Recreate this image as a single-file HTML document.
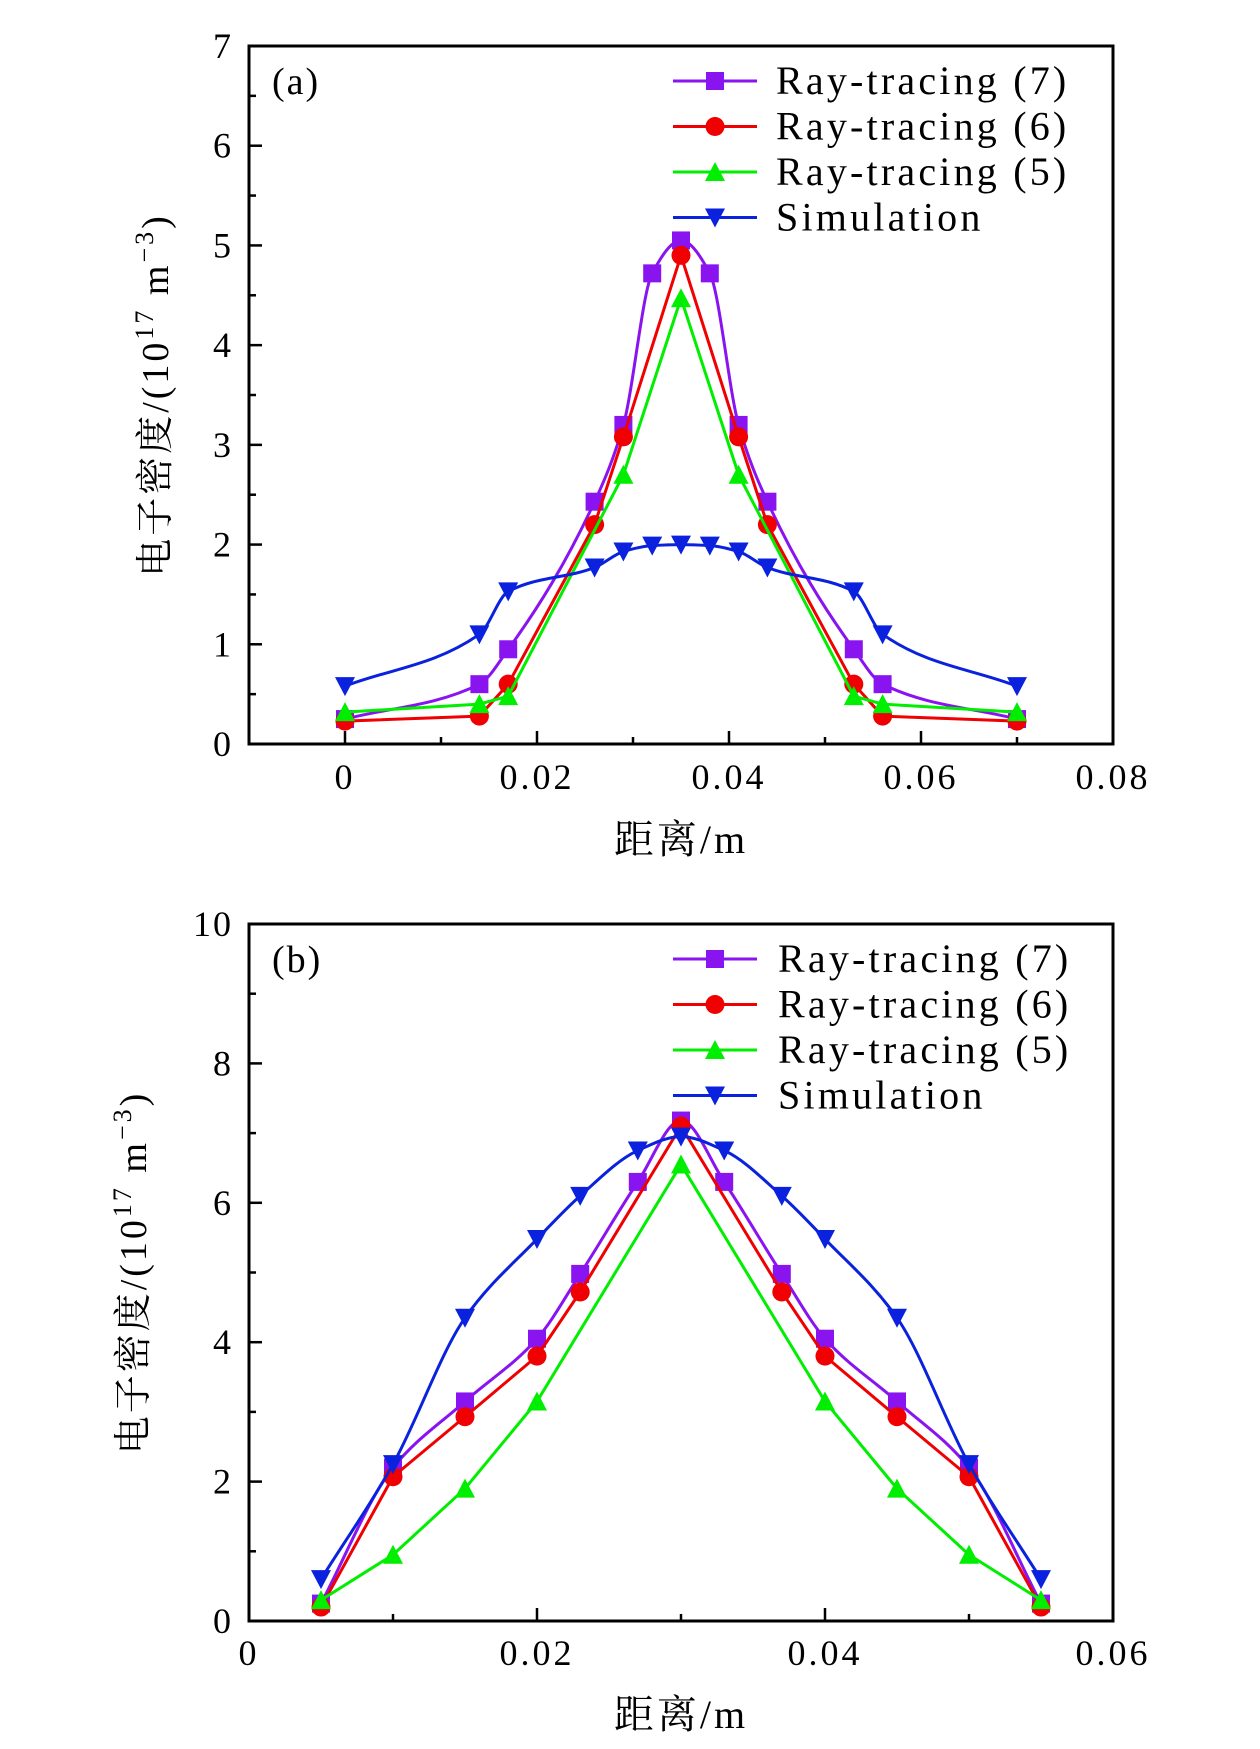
<!DOCTYPE html>
<html><head><meta charset="utf-8"><style>
html,body{margin:0;padding:0;background:#fff;}
svg{display:block;}
text{font-family:"Liberation Serif","Noto Serif CJK SC",serif;fill:#000;}
</style></head><body>
<svg id="chart" width="1260" height="1749" viewBox="0 0 1260 1749"></svg>
<script>
// Panel (a) data
const aX7=[0,0.014,0.017,0.026,0.029,0.032,0.035,0.038,0.041,0.044,0.053,0.056,0.07];
const aY7=[0.25,0.6,0.95,2.43,3.2,4.72,5.05,4.72,3.2,2.43,0.95,0.6,0.25];
const aX6=[0,0.014,0.017,0.026,0.029,0.035,0.041,0.044,0.053,0.056,0.07];
const aY6=[0.23,0.28,0.6,2.2,3.08,4.9,3.08,2.2,0.6,0.28,0.23];
const aX5=[0,0.014,0.017,0.029,0.035,0.041,0.053,0.056,0.07];
const aY5=[0.32,0.4,0.48,2.7,4.47,2.7,0.48,0.4,0.32];
const aXs=[0,0.014,0.017,0.026,0.029,0.032,0.035,0.038,0.041,0.044,0.053,0.056,0.07];
const aYs=[0.58,1.1,1.53,1.77,1.93,1.99,2.0,1.99,1.93,1.77,1.53,1.1,0.58];
const aXTicks=["0","0.02","0.04","0.06","0.08"];
const aYTicks=["0","1","2","3","4","5","6","7"];
// Panel (b) data
const bX7=[0.005,0.01,0.015,0.02,0.023,0.027,0.03,0.033,0.037,0.04,0.045,0.05,0.055];
const bY7=[0.25,2.2,3.15,4.05,4.98,6.3,7.18,6.3,4.98,4.05,3.15,2.2,0.25];
const bX6=[0.005,0.01,0.015,0.02,0.023,0.03,0.037,0.04,0.045,0.05,0.055];
const bY6=[0.2,2.07,2.93,3.8,4.72,7.1,4.72,3.8,2.93,2.07,0.2];
const bX5=[0.005,0.01,0.015,0.02,0.03,0.04,0.045,0.05,0.055];
const bY5=[0.3,0.95,1.9,3.15,6.55,3.15,1.9,0.95,0.3];
const bXs=[0.005,0.01,0.015,0.02,0.023,0.027,0.03,0.033,0.037,0.04,0.045,0.05,0.055];
const bYs=[0.6,2.25,4.35,5.48,6.1,6.75,6.95,6.75,6.1,5.48,4.35,2.25,0.6];
const bXTicks=["0","0.02","0.04","0.06"];
const bYTicks=["0","2","4","6","8","10"];
const legendLabels=["Ray-tracing (7)","Ray-tracing (6)","Ray-tracing (5)","Simulation"];

const NS="http://www.w3.org/2000/svg";
const svg=document.getElementById('chart');
function mk(tag,attrs,parent){const e=document.createElementNS(NS,tag);for(const k in attrs)e.setAttribute(k,attrs[k]);(parent||svg).appendChild(e);return e;}

// monotone cubic (Fritsch-Carlson) in pixel space
function monoPath(pts){
  const n=pts.length,dx=[],s=[],m=[];
  for(let i=0;i<n-1;i++){dx[i]=pts[i+1][0]-pts[i][0];s[i]=(pts[i+1][1]-pts[i][1])/dx[i];}
  m[0]=s[0];m[n-1]=s[n-2];
  for(let i=1;i<n-1;i++){
    if(s[i-1]*s[i]<=0)m[i]=0;
    else{const w1=2*dx[i]+dx[i-1],w2=dx[i]+2*dx[i-1];m[i]=(w1+w2)/(w1/s[i-1]+w2/s[i]);}
  }
  let d=`M${pts[0][0]},${pts[0][1]}`;
  for(let i=0;i<n-1;i++){
    const h=dx[i]/3;
    d+=` C${pts[i][0]+h},${pts[i][1]+m[i]*h} ${pts[i+1][0]-h},${pts[i+1][1]-m[i+1]*h} ${pts[i+1][0]},${pts[i+1][1]}`;
  }
  return d;
}
function marker(g,type,x,y,color){
  let m;
  const s=9;
  if(type==='square') m=mk('rect',{x:x-s,y:y-s,width:2*s,height:2*s,fill:color},g);
  else if(type==='circle') m=mk('circle',{cx:x,cy:y,r:s+0.5,fill:color},g);
  else if(type==='up') m=mk('polygon',{points:`${x},${y-s-1} ${x+s+1},${y+s} ${x-s-1},${y+s}`,fill:color},g);
  else m=mk('polygon',{points:`${x},${y+s+1} ${x+s+1},${y-s} ${x-s-1},${y-s}`,fill:color},g);
  
  
}

function panel(cfg){
  const {L,R,T,B,xmin,xmax,ymax,xStep,yStep,xTicks,yTicks,series,tag,ytitleX,legendY,textX}=cfg;
  const g=mk('g',{});
  
  
  const sx=v=>L+(v-xmin)/(xmax-xmin)*(R-L);
  const sy=v=>B-v/ymax*(B-T);
  const tg=mk('g',{stroke:'#000','stroke-width':2.5},g);
  
  
  for(let i=0;i<xTicks.length;i++){
    const v=i*xStep, x=sx(v);
    mk('line',{x1:x,y1:B,x2:x,y2:B-13},tg);
    const xm=sx(v+xStep/2);
    if(xm<R-2) mk('line',{x1:xm,y1:B,x2:xm,y2:B-7},tg);
    if(i===0){const xm2=sx(v-xStep/2); if(xm2>L+2) mk('line',{x1:xm2,y1:B,x2:xm2,y2:B-7},tg);}
    const t=mk('text',{x:x,y:cfg.xlabY,'font-size':36,'letter-spacing':3,'text-anchor':'middle'},g);
    t.textContent=xTicks[i];
    
    
  }
  for(let i=0;i<yTicks.length;i++){
    const v=i*yStep,y=sy(v);
    mk('line',{x1:L,y1:y,x2:L+13,y2:y},tg);
    if(i<yTicks.length-1){const ym=sy(v+yStep/2);mk('line',{x1:L,y1:ym,x2:L+7,y2:ym},tg);}
    const t=mk('text',{x:L-16,y:y+12,'font-size':36,'letter-spacing':2,'text-anchor':'end'},g);
    t.textContent=yTicks[i];
    
    
  }
  const frame=mk('rect',{x:L,y:T,width:R-L,height:B-T,fill:'none',stroke:'#000','stroke-width':3},g);
  
  
  series.forEach((s,si)=>{
    const sg=mk('g',{},g);
    
    
    const pts=s.x.map((v,i)=>[sx(v),sy(s.y[i])]);
    const d=s.smooth?monoPath(pts):'M'+pts.map(p=>p.join(',')).join(' L');
    const p=mk('path',{d:d,fill:'none',stroke:s.color,'stroke-width':3,'stroke-linejoin':'round'},sg);
    
    
    pts.forEach(pt=>marker(sg,s.marker,pt[0],pt[1],s.color));
    const ly=legendY+si*45.5;
    const lg=mk('g',{},g);
    
    
    mk('line',{x1:673,y1:ly,x2:757,y2:ly,stroke:s.color,'stroke-width':3},lg);
    marker(lg,s.marker,715,ly,s.color);
    const lt=mk('text',{x:textX,y:ly+13,'font-size':40,'letter-spacing':3.2},lg);
    lt.textContent=legendLabels[si];
  });
  const pl=mk('text',{x:272,y:T+48,'font-size':38,'letter-spacing':2},g);
  pl.textContent='('+tag+')';
  
  
  const yt=mk('text',{x:0,y:0,'font-size':38,'letter-spacing':3,'text-anchor':'middle',transform:`translate(${ytitleX},${(T+B)/2}) rotate(-90)`},g);
  yt.innerHTML='电子密度/(10<tspan font-size="26" dy="-15">17</tspan><tspan dy="15"> m</tspan><tspan font-size="26" dy="-15">−3</tspan><tspan dy="15">)</tspan>';
  
  
  const xt=mk('text',{x:(L+R)/2,y:cfg.xtitleY,'font-size':40,'letter-spacing':3,'text-anchor':'middle'},g);
  xt.textContent='距离/m';
  
  
}
const colors={p:'#8a14f0',r:'#f00000',g:'#00ee00',b:'#0a22dd'};
panel({L:249,R:1113,T:46,B:744,xmin:-0.01,xmax:0.08,ymax:7,xStep:0.02,yStep:1,xTicks:aXTicks,yTicks:aYTicks,tag:'a',
  ytitleX:168,legendY:81,textX:776,xlabY:789,xtitleY:853,
  series:[{name:'ray7',x:aX7,y:aY7,color:colors.p,marker:'square',smooth:true},
          {name:'ray6',x:aX6,y:aY6,color:colors.r,marker:'circle',smooth:false},
          {name:'ray5',x:aX5,y:aY5,color:colors.g,marker:'up',smooth:false},
          {name:'simulation',x:aXs,y:aYs,color:colors.b,marker:'down',smooth:true}]});
panel({L:249,R:1113,T:924,B:1621,xmin:0,xmax:0.06,ymax:10,xStep:0.02,yStep:2,xTicks:bXTicks,yTicks:bYTicks,tag:'b',
  ytitleX:146,legendY:959,textX:778,xlabY:1665,xtitleY:1728,
  series:[{name:'ray7',x:bX7,y:bY7,color:colors.p,marker:'square',smooth:true},
          {name:'ray6',x:bX6,y:bY6,color:colors.r,marker:'circle',smooth:false},
          {name:'ray5',x:bX5,y:bY5,color:colors.g,marker:'up',smooth:false},
          {name:'simulation',x:bXs,y:bYs,color:colors.b,marker:'down',smooth:true}]});
</script>
</body></html>
